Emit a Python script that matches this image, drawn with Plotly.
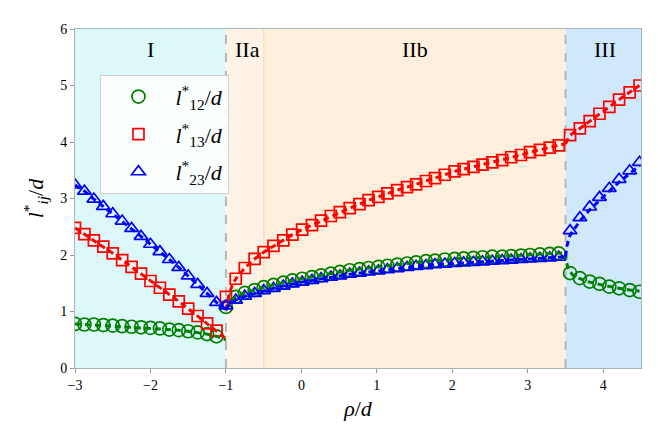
import plotly.graph_objects as go

# marker data, region I (rho/d < -1)
x_I = [-3.0, -2.875, -2.75, -2.625, -2.5, -2.375, -2.25, -2.125, -2.0, -1.875,
       -1.75, -1.625, -1.5, -1.375, -1.25, -1.125]
l12_I = [0.78, 0.77, 0.77, 0.76, 0.75, 0.74, 0.73, 0.72, 0.71, 0.70, 0.68, 0.67, 0.65, 0.63, 0.60, 0.56]
l13_I = [2.48, 2.37, 2.26, 2.15, 2.03, 1.91, 1.79, 1.67, 1.54, 1.42, 1.30, 1.18, 1.05, 0.92, 0.79, 0.66]
l23_I = [3.24, 3.13, 2.99, 2.86, 2.73, 2.60, 2.47, 2.33, 2.19, 2.06, 1.92, 1.78, 1.63, 1.48, 1.32, 1.16]

# region II (IIa + IIb)
x_II = [-1.00, -0.87, -0.75, -0.62, -0.50, -0.37, -0.24, -0.12, 0.01, 0.14, 0.26, 0.39,
        0.51, 0.64, 0.77, 0.89, 1.02, 1.14, 1.27, 1.40, 1.52, 1.65, 1.77, 1.90,
        2.03, 2.15, 2.28, 2.40, 2.53, 2.66, 2.78, 2.91, 3.03, 3.16, 3.29, 3.41]
l12_II = [1.08, 1.26, 1.33, 1.38, 1.43, 1.47, 1.51, 1.55, 1.58, 1.61, 1.64, 1.67,
          1.70, 1.73, 1.75, 1.77, 1.79, 1.81, 1.83, 1.85, 1.87, 1.89, 1.90, 1.92,
          1.93, 1.94, 1.95, 1.96, 1.97, 1.97, 1.98, 1.99, 2.00, 2.01, 2.02, 2.03]
l13_II = [1.26, 1.58, 1.77, 1.93, 2.05, 2.16, 2.26, 2.36, 2.45, 2.53, 2.61, 2.69,
          2.76, 2.83, 2.90, 2.97, 3.03, 3.09, 3.15, 3.20, 3.25, 3.31, 3.36, 3.42,
          3.48, 3.52, 3.56, 3.60, 3.64, 3.68, 3.73, 3.77, 3.82, 3.86, 3.90, 3.94]
l23_II = [1.10, 1.20, 1.27, 1.32, 1.37, 1.41, 1.45, 1.49, 1.52, 1.55, 1.58, 1.61,
          1.63, 1.66, 1.68, 1.70, 1.72, 1.74, 1.76, 1.78, 1.80, 1.81, 1.83, 1.84,
          1.85, 1.86, 1.87, 1.88, 1.89, 1.90, 1.91, 1.92, 1.93, 1.94, 1.95, 1.96]

# region III (rho/d > 3.5)
x_III = [3.56, 3.69, 3.82, 3.95, 4.08, 4.21, 4.35, 4.48]
l12_III = [1.68, 1.59, 1.53, 1.49, 1.44, 1.41, 1.38, 1.35]
l13_III = [4.12, 4.24, 4.37, 4.50, 4.62, 4.75, 4.88, 5.00]
l23_III = [2.43, 2.66, 2.85, 3.02, 3.18, 3.34, 3.49, 3.64]

# theory curves: end points at the region boundaries
x_lo_I, l12_end_I, l13_end_I, l23_end_I = -1.0, 0.50, 0.52, 1.04
x_start_II = [-1.0, -0.96, -0.92]
l12_start_II = [1.05, 1.15, 1.21]
l13_start_II = [1.02, 1.30, 1.45]
l23_start_II = [1.03, 1.11, 1.16]
x_end_II, l12_end_II, l13_end_II, l23_end_II = 3.5, 2.04, 3.97, 1.97
x_th12_III = [3.5, 3.51, 3.54, 3.60, 3.69, 3.82, 3.95, 4.08, 4.21, 4.35, 4.48]
th12_III = [2.03, 1.88, 1.74, 1.64, 1.58, 1.52, 1.48, 1.44, 1.41, 1.38, 1.36]
x_th23_III = [3.5, 3.52, 3.56, 3.69, 3.82, 3.95, 4.08, 4.21, 4.35, 4.48]
th23_III = [1.97, 2.17, 2.35, 2.60, 2.80, 2.97, 3.13, 3.29, 3.44, 3.58]

labels = ["<i>l</i><sup>*</sup><sub>12</sub>/<i>d</i>",
          "<i>l</i><sup>*</sup><sub>13</sub>/<i>d</i>",
          "<i>l</i><sup>*</sup><sub>23</sub>/<i>d</i>"]
colors = ["#008000", "#ff0000", "#0000ff"]
symbols = ["circle-open", "square-open", "triangle-up-open"]
sizes = [13, 11, 12]
serif = "Liberation Serif"

fig = go.Figure()

# background regions
regions = [(-3, -1, "#dcf8f8"), (-1, -0.5, "#fef3e6"), (-0.5, 3.5, "#fef0dc"), (3.5, 4.5, "#d0e8fb")]
for x0, x1, c in regions:
    fig.add_shape(type="rect", xref="x", yref="y", x0=x0, x1=x1, y0=0, y1=6,
                  fillcolor=c, line_width=0, layer="below")
fig.add_shape(type="line", xref="x", yref="y", x0=-0.5, x1=-0.5, y0=0, y1=6,
              line=dict(color="#fbe2c0", width=1.5), layer="below")
for xv in [-1, 3.5]:
    fig.add_shape(type="line", xref="x", yref="y", x0=xv, x1=xv, y0=0, y1=6,
                  line=dict(color="#b8b8b8", width=2, dash="dash"), layer="below")

series_I = [l12_I, l13_I, l23_I]
series_II = [l12_II, l13_II, l23_II]
series_III = [l12_III, l13_III, l23_III]
ends_I = [l12_end_I, l13_end_I, l23_end_I]
starts_II = [l12_start_II, l13_start_II, l23_start_II]
ends_II = [l12_end_II, l13_end_II, l23_end_II]

for i in range(3):
    fig.add_trace(go.Scatter(
        x=x_I + x_II + x_III, y=series_I[i] + series_II[i] + series_III[i],
        mode="markers", name=labels[i], legendgroup=f"g{i}",
        marker=dict(symbol=symbols[i], size=sizes[i], color=colors[i],
                    line=dict(width=1.7, color=colors[i]))))

for i in range(3):
    lx = x_I + [x_lo_I] + [None] + x_start_II + x_II[1:] + [x_end_II] + [None]
    ly = series_I[i] + [ends_I[i]] + [None] + starts_II[i] + series_II[i][1:] + [ends_II[i]] + [None]
    if i == 0:
        lx += x_th12_III
        ly += th12_III
    elif i == 1:
        lx += [x_end_II] + x_III
        ly += [ends_II[1]] + l13_III
    else:
        lx += x_th23_III
        ly += th23_III
    fig.add_trace(go.Scatter(x=lx, y=ly, mode="lines", showlegend=False,
                             line=dict(color=colors[i], width=3, dash="6px,4px")))

for txt, xv in [("I", -2.0), ("IIa", -0.72), ("IIb", 1.5), ("III", 4.02)]:
    fig.add_annotation(x=xv, y=5.63, xref="x", yref="y", text=txt, showarrow=False,
                       font=dict(size=22, color="black", family=serif))

axis_common = dict(showgrid=False, zeroline=False, showline=True, mirror=True,
                   linecolor="#a9b5bd", linewidth=1, ticks="outside", ticklen=4,
                   tickcolor="#999999", tickfont=dict(size=14, color="black", family=serif))
fig.update_xaxes(range=[-3, 4.5], tickvals=[-3, -2, -1, 0, 1, 2, 3, 4],
                 title=dict(text="<i>ρ</i>/<i>d</i>", font=dict(size=22, family=serif), standoff=8),
                 **axis_common)
fig.update_yaxes(range=[0, 6], tickvals=[0, 1, 2, 3, 4, 5, 6],
                 title=dict(text="<i>l</i><sup>*</sup><sub><i>ij</i></sub>/<i>d</i>",
                            font=dict(size=22, family=serif), standoff=10),
                 **axis_common)

fig.update_layout(
    width=664, height=446, autosize=False,
    margin=dict(l=67, r=31, t=21, b=86),
    plot_bgcolor="white", paper_bgcolor="white",
    font=dict(family=serif, color="black"),
    legend=dict(x=0.045, y=0.865, xanchor="left", yanchor="top",
                bgcolor="rgba(255,255,255,0.85)", bordercolor="#d0d0d0", borderwidth=1,
                font=dict(size=22, family=serif), itemwidth=64, tracegroupgap=6),
)

fig.write_html("out.html")
